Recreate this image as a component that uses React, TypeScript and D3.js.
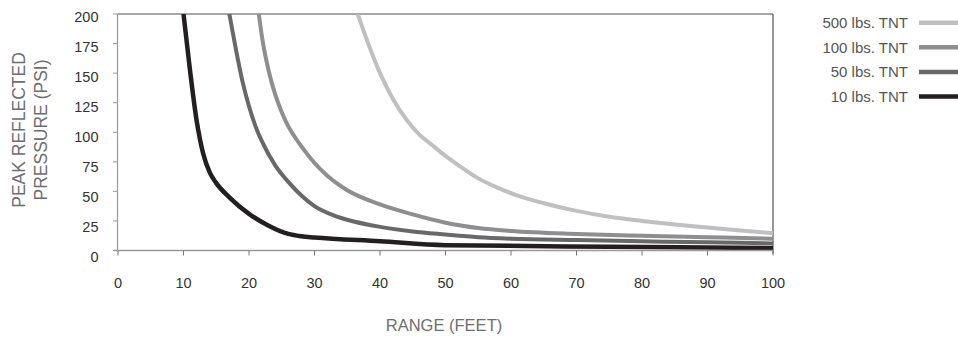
import React from "react";
import * as d3 from "d3";

const xTicks = [0, 10, 20, 30, 40, 50, 60, 70, 80, 90, 100];
const yTicks = [0, 25, 50, 75, 100, 125, 150, 175, 200];

const seriesNames = ["500 lbs. TNT", "100 lbs. TNT", "50 lbs. TNT", "10 lbs. TNT"];
const seriesColors = ["#c0c0c2", "#8e8e90", "#68686a", "#231f20"];

const range500 = [36.6, 38, 40, 42, 44, 46, 48, 50, 52, 55, 58, 61, 65, 70, 75, 80, 85, 90, 95, 100];
const psi500 = [200, 178, 150, 128, 111, 98, 89, 80, 72, 61, 53, 46.5, 40, 33.5, 28.5, 25, 22, 19.5, 17, 14.5];

const range100 = [21.5, 22, 23, 24, 25, 26, 27, 28, 30, 32, 35, 40, 45, 50, 55, 60, 70, 80, 90, 100];
const psi100 = [200, 180, 152, 132, 117, 105, 96, 88, 74, 63, 51, 39, 30.5, 23.5, 19, 16.5, 14, 12.5, 11.2, 10];

const range50 = [17, 18, 19, 20, 21, 22, 24, 26, 28, 30, 33, 36, 40, 45, 50, 55, 60, 70, 80, 90, 100];
const psi50 = [200, 170, 143, 122, 105, 92, 72, 58, 46.5, 37.5, 29.5, 24.5, 20, 16, 13.5, 11.3, 10, 8.8, 7.8, 6.9, 6];

const range10 = [10, 11, 12, 13, 14, 15, 17, 20, 23, 26, 28, 30, 40, 50, 75, 100];
const psi10 = [200, 152, 110, 82, 66, 57, 45, 31, 21, 14, 12, 11, 7.8, 4.5, 3.2, 2];

const seriesRanges = [range500, range100, range50, range10];
const seriesPsi = [psi500, psi100, psi50, psi10];

export default function App() {
  const left = 118, right = 773, top = 14, bottom = 250.5;
  const x = d3.scaleLinear().domain([0, 100]).range([left, right]);
  const y = d3.scaleLinear().domain([0, 200]).range([bottom, top]);
  const yLab = d3.scaleLinear().domain([0, 200]).range([256.5, 16.8]);
  const line = d3
    .line<[number, number]>()
    .x((d) => x(d[0]))
    .y((d) => y(d[1]))
    .curve(d3.curveMonotoneX);

  const font = "'Liberation Sans', Arial, Helvetica, sans-serif";

  return (
    <svg
      width={958}
      height={339}
      style={{ position: "absolute", left: 0, top: 0, background: "#fff" }}
      fontFamily={font}
    >
      <defs>
        <clipPath id="plotclip">
          <rect x={left} y={top} width={right - left} height={bottom - top + 3} />
        </clipPath>
      </defs>
      <rect x={0} y={0} width={958} height={339} fill="#fff" />

      {/* frame */}
      <line x1={left} x2={right} y1={top} y2={top} stroke="#8a8a8a" strokeWidth={1.3} />
      <line x1={right} x2={right} y1={top} y2={bottom + 3} stroke="#333" strokeWidth={1} />
      <line x1={left - 0.5} x2={left - 0.5} y1={top} y2={bottom} stroke="#9a9a9a" strokeWidth={1.2} />

      {/* series */}
      <g clipPath="url(#plotclip)">
        {seriesNames.map((name, i) => {
          const pts = seriesRanges[i].map((r, j) => [r, seriesPsi[i][j]] as [number, number]);
          return (
            <path
              key={name}
              d={line(pts) || ""}
              fill="none"
              stroke={seriesColors[i]}
              strokeWidth={i === 3 ? 4.5 : 4}
              strokeLinejoin="round"
            />
          );
        })}
      </g>

      {/* bottom axis */}
      <line x1={left - 4} x2={right} y1={bottom} y2={bottom} stroke="#9a9a9a" strokeWidth={1.5} />
      {xTicks.map((t) => (
        <g key={"x" + t}>
          <line x1={x(t)} x2={x(t)} y1={bottom} y2={bottom + 5} stroke="#777" strokeWidth={1} />
          <text x={x(t)} y={288.3} textAnchor="middle" fontSize={14.5} fill="#333">
            {t}
          </text>
        </g>
      ))}
      {yTicks.map((t) => (
        <g key={"y" + t}>
          <line x1={left - 5} x2={left} y1={y(t)} y2={y(t)} stroke="#9a9a9a" strokeWidth={1} />
          <text x={98.5} y={yLab(t)} dy="0.36em" textAnchor="end" fontSize={14.5} fill="#333">
            {t}
          </text>
        </g>
      ))}

      {/* axis titles */}
      <text
        transform="translate(25,130) rotate(-90)"
        textAnchor="middle"
        fontSize={17.5}
        fill="#6d6e71"
      >
        PEAK REFLECTED
      </text>
      <text
        transform="translate(47,130) rotate(-90)"
        textAnchor="middle"
        fontSize={17.5}
        fill="#6d6e71"
      >
        PRESSURE (PSI)
      </text>
      <text x={444} y={331} textAnchor="middle" fontSize={16.5} fill="#6d6e71">
        RANGE (FEET)
      </text>

      {/* legend */}
      {seriesNames.map((name, i) => {
        const cy = 22.7 + i * 24.6;
        return (
          <g key={"lg" + name}>
            <text x={908} y={cy} dy="0.36em" textAnchor="end" fontSize={15} fill="#555">
              {name}
            </text>
            <line x1={919} x2={958} y1={cy} y2={cy} stroke={seriesColors[i]} strokeWidth={4.5} />
          </g>
        );
      })}
    </svg>
  );
}
